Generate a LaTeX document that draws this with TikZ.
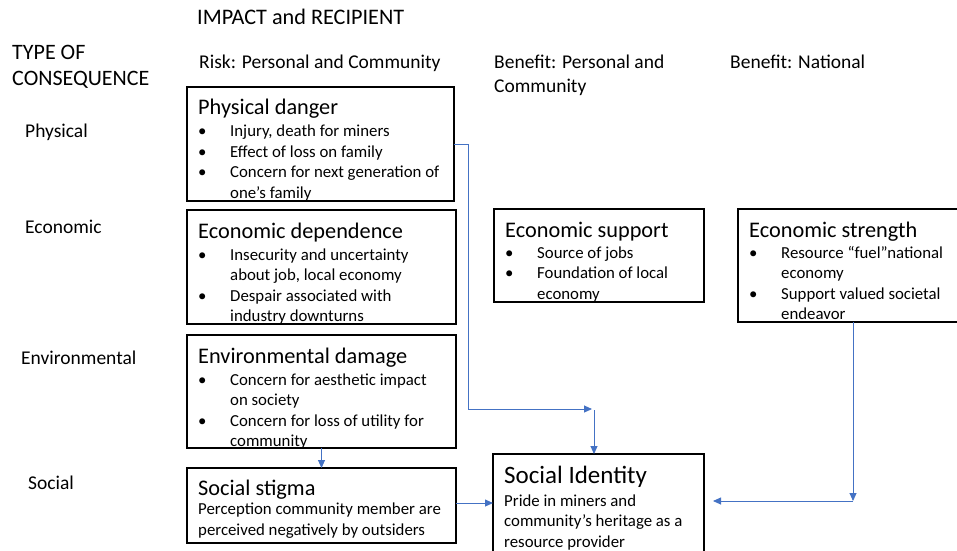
\documentclass[tikz,border=0pt]{standalone}
\usepackage{fontspec}
\setmainfont{Carlito}
\usetikzlibrary{arrows.meta,calc}
\definecolor{conncol}{HTML}{4472C4}
\newcommand{\ttlfont}{\fontsize{22.3}{26}\selectfont}
\newcommand{\bodyfont}{\fontsize{16.8}{20.5}\selectfont}
\newcommand{\hdrfont}{\fontsize{19.5}{24}\selectfont}
\newcommand{\bl}[1]{\par\noindent\hangindent=32pt\hangafter=1\makebox[32pt][l]{\hspace{0pt}•}#1\par}
\newcommand{\bodytext}[2]{\parbox[t]{#1}{\bodyfont\raggedright #2}}
\tikzset{
  box/.style={draw=black, line width=1.1pt, inner sep=0pt, outer sep=0pt, anchor=north west},
  txt/.style={inner sep=0pt, anchor=base west, text=black},
  conn/.style={draw=conncol, line width=0.9pt},
  arr/.style={conn, -{Triangle[length=8pt,width=7pt]}}
}
\begin{document}
\begin{tikzpicture}[x=1pt,y=-1pt]
\useasboundingbox (0,0) rectangle (957,550);
% headers
\node[txt] (h1) at (197,24) {\fontsize{22.2}{26}\selectfont IMPACT and RECIPIENT};
\node[txt] (h2) at (12,59) {\fontsize{22}{26}\selectfont TYPE OF};
\node[txt] (h3) at (12,85.5) {\fontsize{22}{26}\selectfont CONSEQUENCE};
\node[txt] (h4) at (199,68) {\hdrfont Risk: Personal and Community};
\node[txt] (h5) at (494,68) {\hdrfont Benefit: Personal and};
\node[txt] (h6) at (494,92) {\hdrfont Community};
\node[txt] (h7) at (730,68) {\hdrfont Benefit: National};
% row labels
\node[txt] (l1) at (25,137) {\hdrfont Physical};
\node[txt] (l2) at (25,233) {\hdrfont Economic};
\node[txt] (l3) at (21,364) {\hdrfont Environmental};
\node[txt] (l4) at (28,489) {\hdrfont Social};
% boxes
\node[box, minimum width=267pt, minimum height=114pt] (pd) at (187,87) {};
\node[txt] (pdt) at (198,114) {\ttlfont Physical danger};
\node[txt] (pdb) at (198,136.5) {\bodytext{250pt}{\bl{Injury, death for miners}\bl{Effect of loss on family}\bl{Concern for next generation of\newline one’s family}}};

\node[box, minimum width=269pt, minimum height=114pt] (ed) at (187,210) {};
\node[txt] (edt) at (198,238) {\ttlfont Economic dependence};
\node[txt] (edb) at (198,260) {\bodytext{250pt}{\bl{Insecurity and uncertainty\newline about job, local economy}\bl{Despair associated with\newline industry downturns}}};

\node[box, minimum width=269pt, minimum height=113pt] (env) at (187,335) {};
\node[txt] (envt) at (198,363) {\ttlfont Environmental damage};
\node[txt] (envb) at (198,385) {\bodytext{250pt}{\bl{Concern for aesthetic impact\newline on society}\bl{Concern for loss of utility for\newline community}}};

\node[box, minimum width=269pt, minimum height=75pt] (ss) at (187,468) {};
\node[txt] (sst) at (198,495.5) {\ttlfont Social stigma};
\node[txt] (ssb) at (198,514.5) {\bodytext{260pt}{Perception community member are\newline perceived negatively by outsiders}};

\node[box, minimum width=210pt, minimum height=93pt] (es) at (494,209) {};
\node[txt] (est) at (505,237) {\ttlfont Economic support};
\node[txt] (esb) at (505,258) {\bodytext{195pt}{\bl{Source of jobs}\bl{Foundation of local\newline economy}}};

\node[box, minimum width=230pt, minimum height=113pt] (estr) at (738,209) {};
\node[txt] (estrt) at (749,237) {\ttlfont Economic strength};
\node[txt] (estrb) at (749,258) {\bodytext{205pt}{\bl{Resource “fuel”national\newline economy}\bl{Support valued societal\newline endeavor}}};

\node[box, minimum width=211pt, minimum height=110pt] (si) at (493,454) {};
\node[txt] (sit) at (504,483) {\fontsize{25}{30}\selectfont Social Identity};
\node[txt] (sib) at (504,506) {\bodytext{200pt}{Pride in miners and\newline community’s heritage as a\newline resource provider}};

% connectors
\coordinate (j1) at (592,409);
\coordinate (j2) at (594,410);
\coordinate (j3) at (853,501);
\coordinate (j4) at (713,501);
\draw[arr] (pd.east) -- ++(14,0) |- (j1);
\draw[arr] (j2) -- (j2 |- si.north);
\draw[arr] (env.south) -- (ss.north);
\draw[arr] ($(ss.east)+(0,-2.5)$) -- ($(ss.east -| si.west)+(0,-2.5)$);
\draw[arr] (estr.south -| j3) -- (j3);
\draw[arr] (j3) -- (j4);
\end{tikzpicture}
\end{document}
